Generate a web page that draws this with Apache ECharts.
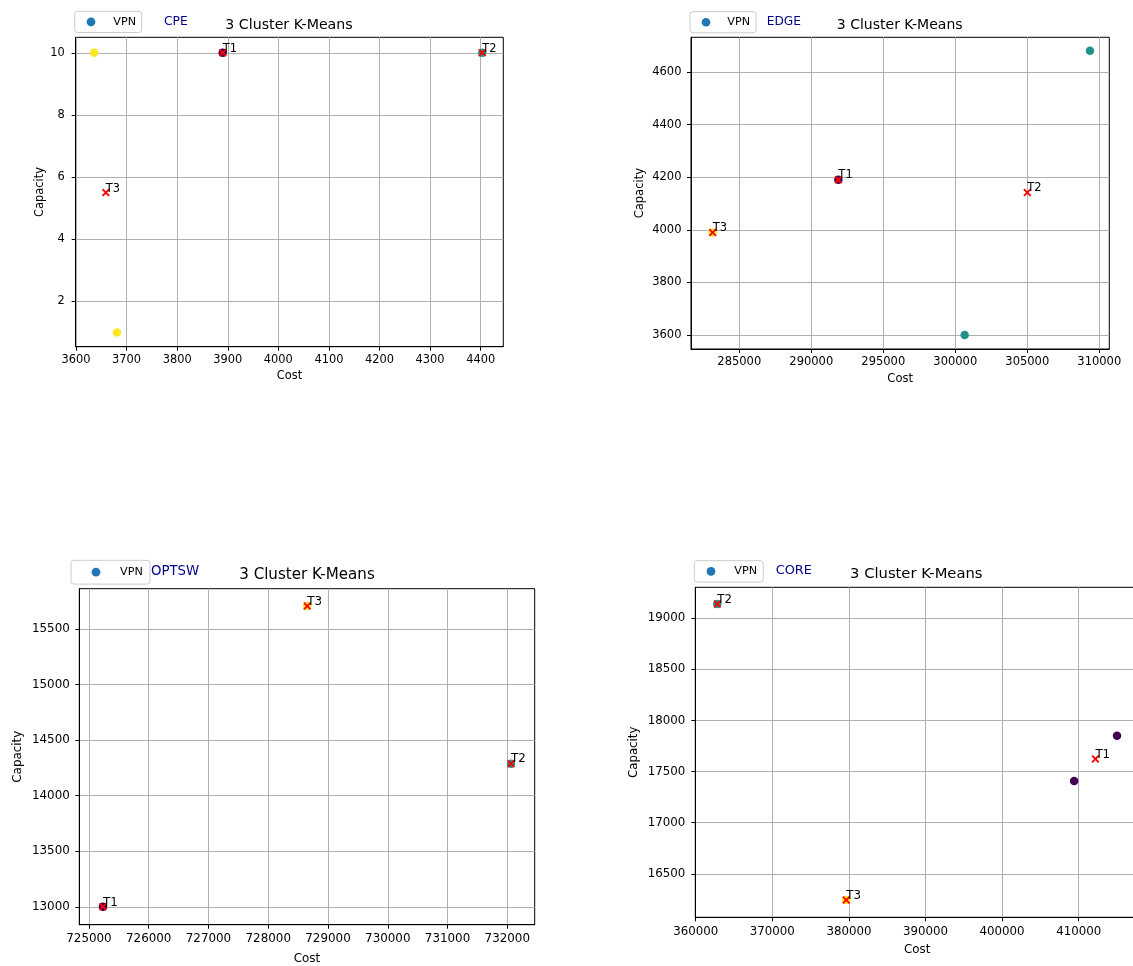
<!DOCTYPE html>
<html><head><meta charset="utf-8">
<script src="https://cdn.jsdelivr.net/npm/echarts@6/dist/echarts.min.js"></script>
<style>html,body{margin:0;padding:0;background:#fff;overflow:hidden;width:1133px;height:966px}#c{width:1150px;height:966px}</style>
</head><body><div id="c"></div>
<script>
// ---------------- data ----------------
const panelNames = ['CPE', 'EDGE', 'OPTSW', 'CORE'];
const centroidLabels = ['T1', 'T2', 'T3'];
const legendLabel = 'VPN';
const chartTitle = '3 Cluster K-Means';

const cpeCost = [3890, 4403, 3636, 3681];
const cpeCapacity = [10, 10, 10, 1];
const cpeCluster = [0, 1, 2, 2];
const cpeCentroidCost = [3890, 4403, 3659];
const cpeCentroidCapacity = [10, 10, 5.5];
const cpeCostTicks = [3600, 3700, 3800, 3900, 4000, 4100, 4200, 4300, 4400];
const cpeCapacityTicks = [2, 4, 6, 8, 10];

const edgeCost = [291880, 309354, 300650, 283150];
const edgeCapacity = [4190, 4681, 3600, 3990];
const edgeCluster = [0, 1, 1, 2];
const edgeCentroidCost = [291880, 305000, 283150];
const edgeCentroidCapacity = [4190, 4142, 3990];
const edgeCostTicks = [285000, 290000, 295000, 300000, 305000, 310000];
const edgeCapacityTicks = [3600, 3800, 4000, 4200, 4400, 4600];

const optswCost = [725234, 732062, 728652];
const optswCapacity = [13000, 14288, 15708];
const optswCluster = [0, 1, 2];
const optswCentroidCost = [725234, 732062, 728652];
const optswCentroidCapacity = [13000, 14288, 15708];
const optswCostTicks = [725000, 726000, 727000, 728000, 729000, 730000, 731000, 732000];
const optswCapacityTicks = [13000, 13500, 14000, 14500, 15000, 15500];

const coreCost = [409400, 415000, 362820, 379650];
const coreCapacity = [17409, 17850, 19139, 16245];
const coreCluster = [0, 0, 1, 2];
const coreCentroidCost = [412180, 362820, 379650];
const coreCentroidCapacity = [17624, 19139, 16245];
const coreCostTicks = [360000, 370000, 380000, 390000, 400000, 410000];
const coreCapacityTicks = [16500, 17000, 17500, 18000, 18500, 19000];

// ---------------- styling / layout ----------------
const FONT = '"DejaVu Sans", Verdana, sans-serif';
const viridis = ['#440154', '#21918c', '#fde725'];
const xMark = 'path://M0,1.6 L1.6,0 L5,3.4 L8.4,0 L10,1.6 L6.6,5 L10,8.4 L8.4,10 L5,6.6 L1.6,10 L0,8.4 L3.4,5 Z';

const panels = [
  { cost: cpeCost, cap: cpeCapacity, cl: cpeCluster, cc: cpeCentroidCost, ccap: cpeCentroidCapacity, xt: cpeCostTicks, yt: cpeCapacityTicks,
    grid: [75.7, 37.3, 427.6, 309.4], xr: [3599.4, 4444.7], yr: [0.54, 10.5],
    tick: 11.4, titleF: 14.2, tagF: 12.3, titleC: [289, 25], tag: [164, 22],
    lg: { l: 74.7, t: 11.3, dot: 16.3, gap: 22.3, w: 67, h: 21.4 }, xGap: 24, yGap: 29.9, xM: 7.6, yM: 11 },
  { cost: edgeCost, cap: edgeCapacity, cl: edgeCluster, cc: edgeCentroidCost, ccap: edgeCentroidCapacity, xt: edgeCostTicks, yt: edgeCapacityTicks,
    grid: [691, 37.3, 418.3, 311.7], xr: [281646, 310694], yr: [3547, 4732],
    tick: 11.5, titleF: 14, tagF: 12.2, titleC: [899.7, 25.3], tag: [766.7, 22],
    lg: { l: 690, t: 11.7, dot: 16, gap: 21.3, w: 66, h: 21.3 }, xGap: 24.2, yGap: 44.5, xM: 7.5, yM: 9.5 },
  { cost: optswCost, cap: optswCapacity, cl: optswCluster, cc: optswCentroidCost, ccap: optswCentroidCapacity, xt: optswCostTicks, yt: optswCapacityTicks,
    grid: [79.3, 588.7, 455.4, 338.6], xr: [724838, 732459], yr: [12839, 15863],
    tick: 11.9, titleF: 15.1, tagF: 13.3, titleC: [307, 575.5], tag: [151, 572],
    lg: { l: 71, t: 560.3, dot: 25, gap: 24, w: 79, h: 24 }, xGap: 28.3, yGap: 55.8, xM: 8.5, yM: 9.5 },
  { cost: coreCost, cap: coreCapacity, cl: coreCluster, cc: coreCentroidCost, ccap: coreCentroidCapacity, xt: coreCostTicks, yt: coreCapacityTicks,
    grid: [695.3, 587.3, 443.7, 330], xr: [359950, 417870], yr: [16075, 19302],
    tick: 11.8, titleF: 14.75, tagF: 12.9, titleC: [916.3, 574.2], tag: [775.7, 571],
    lg: { l: 694.3, t: 560.7, dot: 16.7, gap: 23.3, w: 69, h: 21.6 }, xGap: 26.3, yGap: 55.2, xM: 8.5, yM: 10 }
];

const mctx = document.createElement('canvas').getContext('2d');
function textW(t, size) { mctx.font = size + 'px ' + FONT; return mctx.measureText(t).width; }

const option = { animation: false, backgroundColor: '#fff', grid: [], xAxis: [], yAxis: [], series: [], legend: [], title: [] };

option.series.push({ name: legendLabel, type: 'scatter', xAxisIndex: 0, yAxisIndex: 0, data: [], itemStyle: { color: '#1f77b4', opacity: 1 } });

panels.forEach((p, i) => {
  option.grid.push({ left: p.grid[0], top: p.grid[1], width: p.grid[2], height: p.grid[3], show: true,
    borderColor: '#000', borderWidth: 1, backgroundColor: 'transparent', containLabel: false });
  const axisCommon = {
    gridIndex: i, type: 'value', nameLocation: 'middle',
    axisLine: { show: true, onZero: false, lineStyle: { color: '#000', width: 1 } },
    splitLine: { show: true, lineStyle: { color: '#b0b0b0', width: 1 } }
  };
  option.xAxis.push(Object.assign({}, axisCommon, {
    min: p.xr[0], max: p.xr[1], name: 'Cost', nameGap: p.xGap,
    nameTextStyle: { fontSize: p.tick, color: '#000', fontFamily: FONT },
    axisTick: { show: true, length: 4, inside: false, customValues: p.xt, lineStyle: { color: '#000' } },
    axisLabel: { customValues: p.xt, fontSize: p.tick, color: '#000', fontFamily: FONT, margin: p.xM, formatter: v => String(v), hideOverlap: false }
  }));
  option.yAxis.push(Object.assign({}, axisCommon, {
    min: p.yr[0], max: p.yr[1], name: 'Capacity', nameGap: p.yGap,
    nameTextStyle: { fontSize: p.tick, color: '#000', fontFamily: FONT },
    axisTick: { show: true, length: 4, inside: false, customValues: p.yt, lineStyle: { color: '#000' } },
    axisLabel: { customValues: p.yt, fontSize: p.tick, color: '#000', fontFamily: FONT, margin: p.yM, formatter: v => String(v), hideOverlap: false }
  }));
  option.series.push({
    type: 'scatter', xAxisIndex: i, yAxisIndex: i, symbol: 'circle', symbolSize: 8.5, z: 2,
    data: p.cost.map((c, k) => [c, p.cap[k], p.cl[k]]),
    itemStyle: { color: prm => viridis[prm.data[2]], opacity: 1 }
  });
  option.series.push({
    type: 'scatter', xAxisIndex: i, yAxisIndex: i, symbol: xMark, symbolSize: 8, z: 3, clip: false,
    data: p.cc.map((c, k) => ({ value: [c, p.ccap[k]], name: centroidLabels[k] })),
    itemStyle: { color: '#ff0000', opacity: 1 },
    label: { show: true, formatter: '{b}', position: [4, 5.6], align: 'left', verticalAlign: 'bottom',
      fontSize: p.tick, color: '#000', fontFamily: FONT }
  });
  // legend item layout: dot (diameter = itemHeight) starts at the left padding,
  // text starts at itemWidth/2 + dot/2 + 5 after it.
  const lg = p.lg, dia = 8.7, padV = (lg.h - 11.2) / 2, pl = lg.dot - dia / 2, iw = 2 * (lg.gap - 5);
  const vw = textW(legendLabel, 11.2);
  option.legend.push({
    data: [legendLabel], left: lg.l, top: lg.t, orient: 'horizontal', selectedMode: false,
    padding: [padV, Math.max(0, lg.w - (lg.dot + lg.gap) - vw), padV, pl],
    itemWidth: iw, itemHeight: dia, icon: 'circle', itemGap: 0,
    borderColor: '#cccccc', borderWidth: 1, borderRadius: 3, backgroundColor: 'rgba(255,255,255,0.8)',
    textStyle: { fontSize: 11.2, color: '#000', fontFamily: FONT }
  });
  const tw = textW(chartTitle, p.titleF);
  option.title.push({ text: chartTitle, left: p.titleC[0] - tw / 2, top: p.titleC[1] - p.titleF / 2, padding: 0,
    textStyle: { fontSize: p.titleF, fontWeight: 'normal', color: '#000', fontFamily: FONT } });
  option.title.push({ text: panelNames[i], left: p.tag[0], top: p.tag[1] - p.tagF / 2, padding: 0,
    textStyle: { fontSize: p.tagF, fontWeight: 'normal', color: '#00008b', fontFamily: FONT } });
});

const chart = echarts.init(document.getElementById('c'), null, { renderer: 'canvas', width: 1150, height: 966 });
chart.setOption(option);
</script></body></html>
